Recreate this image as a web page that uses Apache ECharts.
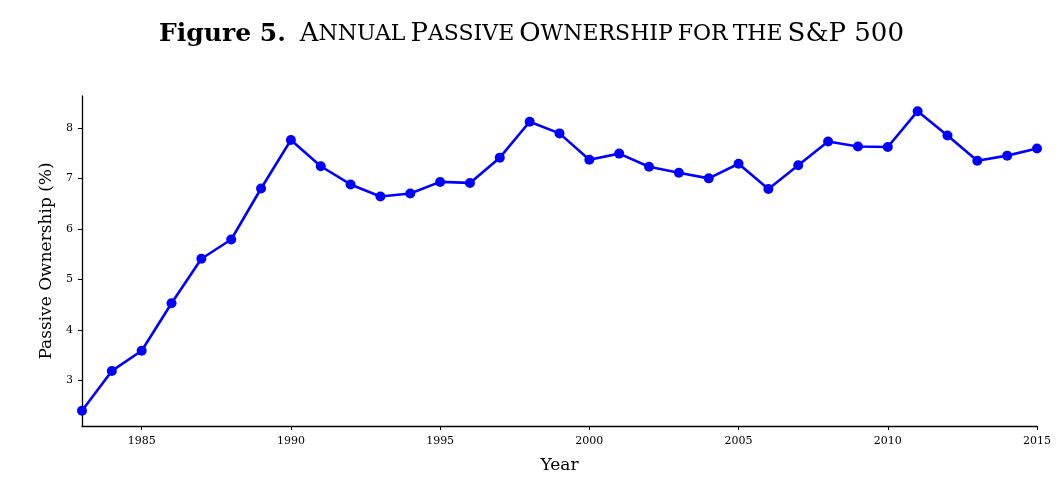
<!DOCTYPE html>
<html>
<head>
<meta charset="utf-8">
<script src="https://cdn.jsdelivr.net/npm/echarts@6/dist/echarts.min.js"></script>
<style>html,body{margin:0;padding:0;background:#fff}#c{width:1063px;height:487px}</style>
</head>
<body>
<div id="c"></div>
<script>
const years = [1983,1984,1985,1986,1987,1988,1989,1990,1991,1992,1993,1994,1995,1996,1997,1998,1999,2000,2001,2002,2003,2004,2005,2006,2007,2008,2009,2010,2011,2012,2013,2014,2015];
const passive = [2.40,3.19,3.59,4.53,5.41,5.79,6.80,7.76,7.24,6.88,6.64,6.70,6.93,6.91,7.41,8.12,7.89,7.37,7.49,7.23,7.11,7.00,7.29,6.79,7.26,7.73,7.63,7.62,8.33,7.85,7.35,7.45,7.59];
const xTicks = [1985,1990,1995,2000,2005,2010,2015];
const yTicks = [3,4,5,6,7,8];

const F = '"DejaVu Serif","Liberation Serif",serif';
const chart = echarts.init(document.getElementById('c'));
chart.setOption({
  animation: false,
  backgroundColor: '#fff',
  title: {
    text: '{b|Figure 5.}{c|A}{s|NNUAL} {c|P}{s|ASSIVE} {c|O}{s|WNERSHIP} {s|FOR} {s|THE} {c|S&P 500}',
    left: 'center', top: 16,
    textStyle: {
      fontWeight: 'normal',
      rich: {
        b: {fontFamily: F, fontWeight: 'bold', fontSize: 25, color: '#000', padding: [0, 14, 0, 0]},
        c: {fontFamily: F, fontWeight: 'normal', fontSize: 26, color: '#000'},
        s: {fontFamily: F, fontWeight: 'normal', fontSize: 22, color: '#000'}
      }
    }
  },
  grid: {left: 82, right: 26, top: 96, bottom: 61, containLabel: false},
  xAxis: {
    type: 'value', min: 1983, max: 2015,
    name: 'Year', nameLocation: 'middle', nameGap: 31,
    nameTextStyle: {fontFamily: F, fontSize: 17, color: '#000'},
    axisLine: {show: true, lineStyle: {color: '#000', width: 1.3}},
    axisTick: {show: true, length: 4, customValues: xTicks, lineStyle: {color: '#000', width: 1}},
    axisLabel: {customValues: xTicks, formatter: v => String(v), fontFamily: F, fontSize: 11, color: '#000', margin: 10},
    splitLine: {show: false}
  },
  yAxis: {
    type: 'value', min: 2.1, max: 8.63,
    name: 'Passive Ownership (%)', nameLocation: 'middle', nameGap: 27,
    nameTextStyle: {fontFamily: F, fontSize: 17, color: '#000'},
    axisLine: {show: true, lineStyle: {color: '#000', width: 1.3}},
    axisTick: {show: true, length: 4, customValues: yTicks, lineStyle: {color: '#000', width: 1}},
    axisLabel: {customValues: yTicks, fontFamily: F, fontSize: 11, color: '#000', margin: 9},
    splitLine: {show: false}
  },
  series: [{
    type: 'line',
    data: years.map((y, i) => [y, passive[i]]),
    symbol: 'circle', symbolSize: 10,
    lineStyle: {color: '#0000FF', width: 2.6},
    itemStyle: {color: '#0000FF'},
    clip: false
  }]
});
</script>
</body>
</html>
